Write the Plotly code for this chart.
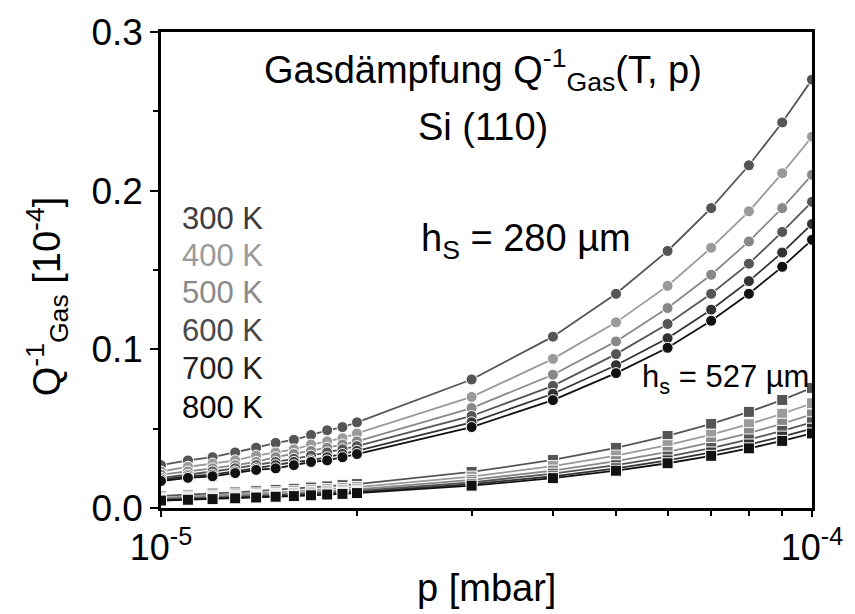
import plotly.graph_objects as go

# pressure values (mbar)
p_mbar = [1.0e-5, 1.1e-5, 1.2e-5, 1.3e-5, 1.4e-5, 1.5e-5, 1.6e-5, 1.7e-5, 1.8e-5, 1.9e-5, 2.0e-5,
          3e-5, 4e-5, 5e-5, 6e-5, 7e-5, 8e-5, 9e-5, 1e-4]

temps = ["300 K", "400 K", "500 K", "600 K", "700 K", "800 K"]

# h_S = 280 um (circles)
q280_300 = [0.027, 0.030, 0.032, 0.035, 0.038, 0.041, 0.043, 0.046, 0.049, 0.051, 0.054, 0.081, 0.108, 0.135, 0.162, 0.189, 0.216, 0.243, 0.270]
q280_400 = [0.023, 0.026, 0.028, 0.030, 0.033, 0.035, 0.037, 0.040, 0.042, 0.044, 0.047, 0.070, 0.094, 0.117, 0.140, 0.164, 0.187, 0.211, 0.234]
q280_500 = [0.021, 0.023, 0.025, 0.027, 0.029, 0.032, 0.034, 0.036, 0.038, 0.040, 0.042, 0.063, 0.084, 0.105, 0.126, 0.147, 0.168, 0.189, 0.210]
q280_600 = [0.019, 0.021, 0.023, 0.025, 0.027, 0.029, 0.031, 0.033, 0.035, 0.037, 0.039, 0.058, 0.077, 0.097, 0.116, 0.135, 0.154, 0.174, 0.193]
q280_700 = [0.018, 0.020, 0.021, 0.023, 0.025, 0.027, 0.029, 0.030, 0.032, 0.034, 0.036, 0.054, 0.072, 0.090, 0.107, 0.125, 0.143, 0.161, 0.179]
q280_800 = [0.017, 0.019, 0.020, 0.022, 0.024, 0.025, 0.027, 0.029, 0.030, 0.032, 0.034, 0.051, 0.068, 0.085, 0.101, 0.118, 0.135, 0.152, 0.169]

# h_S = 527 um (squares)
q527_300 = [0.0076, 0.0083, 0.0091, 0.0098, 0.0106, 0.0114, 0.0121, 0.0129, 0.0136, 0.0144, 0.0151, 0.0227, 0.0303, 0.0379, 0.0454, 0.0530, 0.0606, 0.0681, 0.0757]
q527_400 = [0.0066, 0.0073, 0.0079, 0.0086, 0.0092, 0.0099, 0.0106, 0.0112, 0.0119, 0.0125, 0.0132, 0.0198, 0.0264, 0.0330, 0.0396, 0.0462, 0.0528, 0.0594, 0.0660]
q527_500 = [0.0059, 0.0065, 0.0071, 0.0077, 0.0083, 0.0089, 0.0094, 0.0100, 0.0106, 0.0112, 0.0118, 0.0177, 0.0236, 0.0295, 0.0354, 0.0413, 0.0472, 0.0531, 0.0590]
q527_600 = [0.0054, 0.0059, 0.0065, 0.0070, 0.0076, 0.0081, 0.0086, 0.0092, 0.0097, 0.0103, 0.0108, 0.0162, 0.0216, 0.0270, 0.0324, 0.0378, 0.0432, 0.0486, 0.0540]
q527_700 = [0.0050, 0.0055, 0.0060, 0.0065, 0.0070, 0.0075, 0.0080, 0.0085, 0.0090, 0.0095, 0.0100, 0.0150, 0.0200, 0.0250, 0.0300, 0.0350, 0.0400, 0.0450, 0.0500]
q527_800 = [0.0047, 0.0052, 0.0056, 0.0061, 0.0066, 0.0071, 0.0075, 0.0080, 0.0085, 0.0089, 0.0094, 0.0141, 0.0188, 0.0235, 0.0282, 0.0329, 0.0376, 0.0423, 0.0470]

q280 = [q280_300, q280_400, q280_500, q280_600, q280_700, q280_800]
q527 = [q527_300, q527_400, q527_500, q527_600, q527_700, q527_800]

colors = ["#555555", "#9a9a9a", "#888888", "#555555", "#333333", "#111111"]
label_colors = ["#3c3c3c", "#9a9a9a", "#8a8a8a", "#4a4a4a", "#222222", "#000000"]

x_ticks = [1e-5, 1e-4]
x_ticktext = ["10<sup>-5</sup>", "10<sup>-4</sup>"]
x_minor = [2e-5, 3e-5, 4e-5, 5e-5, 6e-5, 7e-5, 8e-5, 9e-5]

FONT = "Liberation Sans, Arial, Helvetica, sans-serif"

fig = go.Figure()

for vals, col, t in zip(q527, colors, temps):
    fig.add_trace(go.Scatter(
        x=p_mbar, y=vals, mode="lines+markers", name=t + " (527 µm)",
        line=dict(color=col, width=1.8),
        marker=dict(symbol="square", size=11, color=col, line=dict(color="white", width=1)),
        showlegend=False))

for vals, col, t in zip(q280, colors, temps):
    fig.add_trace(go.Scatter(
        x=p_mbar, y=vals, mode="lines+markers", name=t + " (280 µm)",
        line=dict(color=col, width=1.8),
        marker=dict(symbol="circle", size=11, color=col, line=dict(color="white", width=1)),
        showlegend=False))

L, R, T, B = 161, 35, 30, 106
W, H = 855, 614
pw, ph = W - L - R, H - T - B


def px(xp):
    return (xp - L) / pw


def py(yp):
    return (H - B - yp) / ph


annotations = [
    dict(text="Gasdämpfung Q<sup>-1</sup><sub>Gas</sub>(T, p)", x=px(487), y=py(68),
         font=dict(size=38, color="black")),
    dict(text="Si (110)", x=px(487), y=py(125), font=dict(size=38, color="black")),
    dict(text="h<sub>S</sub> = 280 µm", x=px(530), y=py(240), font=dict(size=38, color="black")),
    dict(text="h<sub>s</sub> = 527 µm", x=px(732), y=py(378), font=dict(size=31, color="black")),
    dict(text="Q<sup>-1</sup><sub>Gas</sub> [10<sup>-4</sup>]", x=px(46), y=py(295), textangle=-90,
         font=dict(size=38, color="black")),
    dict(text="p [mbar]", x=px(490), y=py(588), font=dict(size=38, color="black")),
]
legend_y = [217, 254, 292, 330, 368, 407]
for t, c, yy in zip(temps, label_colors, legend_y):
    annotations.append(dict(text=t, x=px(180), y=py(yy), xanchor="left",
                            font=dict(size=31, color=c)))

for a in annotations:
    a.setdefault("xanchor", "center")
    a.update(xref="paper", yref="paper", yanchor="middle", showarrow=False)
    a["font"]["family"] = FONT

fig.update_layout(
    width=W, height=H,
    margin=dict(l=L, r=R, t=T, b=B, pad=0),
    paper_bgcolor="white", plot_bgcolor="white",
    font=dict(family=FONT, size=36, color="black"),
    annotations=annotations,
    xaxis=dict(type="log", range=[-5, -4], tickvals=x_ticks, ticktext=x_ticktext,
               ticks="outside", ticklen=6, tickwidth=2, tickcolor="black",
               tickfont=dict(size=36),
               minor=dict(tickvals=x_minor, ticks="outside", ticklen=5, tickwidth=2,
                          tickcolor="black", showgrid=False),
               showline=True, linewidth=2.5, linecolor="black", mirror=True,
               showgrid=False, zeroline=False),
    yaxis=dict(range=[0, 0.3], dtick=0.1, tick0=0, tickformat=".1f",
               ticks="outside", ticklen=8, tickwidth=2, tickcolor="black",
               tickfont=dict(size=37),
               minor=dict(dtick=0.05, tick0=0, ticks="outside", ticklen=5, tickwidth=2,
                          tickcolor="black", showgrid=False),
               showline=True, linewidth=2.5, linecolor="black", mirror=True,
               showgrid=False, zeroline=False),
)

fig.write_html("out.html")
